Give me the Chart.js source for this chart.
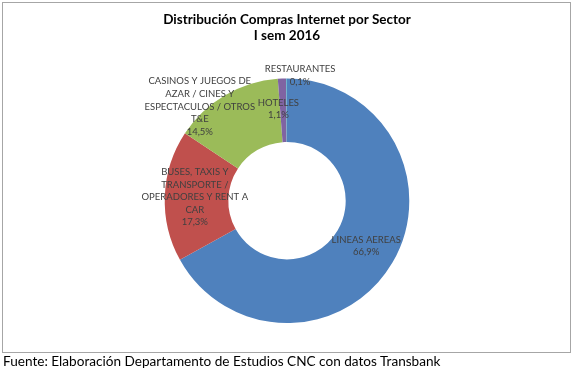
<!DOCTYPE html>
<html>
<head>
<meta charset="utf-8">
<script src="https://cdn.jsdelivr.net/npm/chart.js@4.4.1/dist/chart.umd.min.js"></script>
<style>
  body { margin: 0; background: #fff; }
  #wrap { position: absolute; left: 0; top: 0; width: 574px; height: 375px; }
  #box { position: absolute; left: 2px; top: 2px; width: 567px; height: 349px; border: 1px solid #a6a6a6; }
  #fuente { position: absolute; left: 3px; top: 353px; font-family: Lato, "Open Sans", sans-serif; font-size: 13.6px; color: #000; white-space: nowrap; }
</style>
</head>
<body>
<div id="wrap">
  <div id="box"></div>
  <canvas id="sector_chart" width="574" height="352"></canvas>
  <div id="fuente">Fuente: Elaboración Departamento de Estudios CNC con datos Transbank</div>
</div>
<script>
// sectores (orden horario desde arriba)
var sectores = ['LINEAS AEREAS', 'BUSES, TAXIS Y TRANSPORTE / OPERADORES Y RENT A CAR', 'CASINOS Y JUEGOS DE AZAR / CINES Y ESPECTACULOS / OTROS T&E', 'HOTELES', 'RESTAURANTES'];
// lineas de cada etiqueta, tal como aparecen
var etiquetas = [
  ['LINEAS AEREAS'],
  ['BUSES, TAXIS Y', 'TRANSPORTE /', 'OPERADORES Y RENT A', 'CAR'],
  ['CASINOS Y JUEGOS DE', 'AZAR / CINES Y', 'ESPECTACULOS / OTROS', 'T&E'],
  ['HOTELES'],
  ['RESTAURANTES']
];
var porcentajes = [66.9, 17.3, 14.5, 1.1, 0.1];
var colores = ['#4f81bd', '#c0504d', '#9bbb59', '#8064a2', '#4bacc6'];

// donde va cada etiqueta, relativo al centro (en radios exteriores)
var posEtiqueta = [[0.648, 0.369], [-0.754, -0.03], [-0.713, -0.77], [-0.07, -0.75], [0.107, -1.025]];

var etiquetasPlugin = {
  id: 'etiquetas',
  afterDatasetsDraw: function(chart) {
    var ctx = chart.ctx;
    var arc = chart.getDatasetMeta(0).data[0];
    var cx = arc.x, cy = arc.y, r = arc.outerRadius;
    var lh = 12.6;
    ctx.save();
    ctx.font = '9.5px Lato, "Open Sans", sans-serif';
    ctx.fillStyle = '#404040';
    ctx.textAlign = 'center';
    ctx.textBaseline = 'middle';
    etiquetas.forEach(function(lineas, i) {
      var txt = lineas.concat([porcentajes[i].toFixed(1).replace('.', ',') + '%']);
      var x = cx + posEtiqueta[i][0] * r;
      var y = cy + posEtiqueta[i][1] * r - (txt.length - 1) * lh / 2;
      txt.forEach(function(t, j) {
        ctx.fillText(t, x, y + j * lh);
      });
    });
    ctx.restore();
  }
};

var context = document.getElementById('sector_chart').getContext('2d');
var sector_chart = new Chart(context, {
  type: 'doughnut',
  data: {
    labels: sectores,
    datasets: [{
      data: porcentajes,
      backgroundColor: colores,
      borderWidth: 0
    }]
  },
  options: {
    responsive: false,
    animation: false,
    cutout: '48%',
    layout: { padding: { top: 0, bottom: 29, left: 0, right: 0 } },
    plugins: {
      legend: { display: false },
      tooltip: { enabled: false },
      title: {
        display: true,
        text: ['Distribución Compras Internet por Sector', 'I sem 2016'],
        color: '#000',
        font: { family: 'Lato, "Open Sans", sans-serif', size: 13.5, weight: 'bold', lineHeight: 1.19 },
        padding: { top: 11.5, bottom: 34.8 }
      }
    }
  },
  plugins: [etiquetasPlugin]
});
</script>
</body>
</html>
